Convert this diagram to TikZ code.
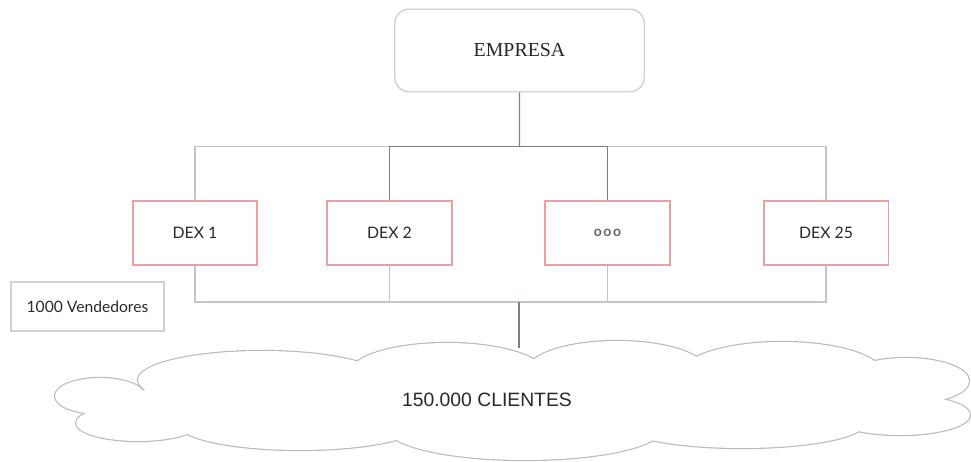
\documentclass[tikz,border=0pt]{standalone}
\usepackage{fontspec}
\setmainfont{Lato}
\newfontfamily\empresafont{Liberation Serif}
\newfontfamily\clientesfont{Liberation Sans}
\usepackage{tikz}
\usetikzlibrary{calc,positioning}

\definecolor{boxgray}{RGB}{206,209,215}
\definecolor{dexred}{RGB}{238,158,160}
\definecolor{linegray}{RGB}{192,196,204}
\definecolor{trunkgray}{RGB}{118,127,142}
\definecolor{txt}{RGB}{40,40,40}

\tikzset{
  empresabox/.style={draw=boxgray, line width=0.8pt, rounded corners=8pt, minimum width=142pt, minimum height=47pt, font=\empresafont\fontsize{11.3}{13}\selectfont, text=txt},
  dexbox/.style={draw=dexred, line width=1pt, fill=white, minimum width=71pt, minimum height=36pt, font=\fontsize{9}{11}\selectfont, text=txt},
  notebox/.style={draw=boxgray, line width=0.8pt, minimum width=87pt, minimum height=28pt, font=\fontsize{8.9}{11}\selectfont, text=txt},
  link/.style={draw=linegray, line width=0.6pt},
  trunk/.style={draw=trunkgray, line width=0.8pt},
}

\begin{document}
\begin{tikzpicture}[x=0.02cm,y=-0.02cm]
\useasboundingbox (0,0) rectangle (971,462);

% cloud: outline then white filling
\foreach \cx/\cy/\rx/\ry in {100/396/45/18, 138/423/62/18, 262/380/124/29, 447/373/97/30, 617/371/90/30, 782/373/100/31, 906/381/63/23, 900/415/70/20, 742/424/122/24, 525/429/137/31, 300/424/122/26}
  \draw[gray!55, line width=1.3pt] (\cx,\cy) ellipse [x radius=\rx, y radius=\ry];
\foreach \cx/\cy/\rx/\ry in {100/396/45/18, 138/423/62/18, 262/380/124/29, 447/373/97/30, 617/371/90/30, 782/373/100/31, 906/381/63/23, 900/415/70/20, 742/424/122/24, 525/429/137/31, 300/424/122/26}
  \fill[white] (\cx,\cy) ellipse [x radius=\rx, y radius=\ry];
\fill[white] (512,402) ellipse [x radius=390, y radius=36];

\node[empresabox] (empresa) at (519.5,50.5) {EMPRESA};

\node[dexbox] (dex1) at (195,233) {DEX 1};
\node[dexbox] (dex2) at (389.5,233) {DEX 2};
\node[dexbox] (dexn) at (607.5,233) {\textcolor{gray!80!black}{\bfseries\fontsize{8}{8}\selectfont o\kern0.9pt o\kern0.9pt o}};
\node[dexbox] (dex25) at (826,233) {DEX 25};

\node[notebox] (vendedores) at (87.5,306.5) {1000 Vendedores};

\node[font=\clientesfont\fontsize{11}{13}\selectfont, text=txt] (clientes) at (487,400) {150.000 CLIENTES};
\coordinate (nube) at (519,348);

% branches
\coordinate (arriba) at ($(empresa.south)!.5!(dex1.north -| empresa.south)$);
\coordinate (abajo) at (519,302);
\foreach \d in {dex1,dex2,dexn,dex25} {
  \draw[link] (\d.north) |- (arriba);
  \draw[link] (\d.south) |- (abajo);
}
\draw[trunk] (dex2.north) |- (dexn.north |- arriba) -- (dexn.north);
\draw[trunk] (empresa.south) -- (arriba);
\draw[trunk] (abajo) -- (nube);
\end{tikzpicture}
\end{document}
